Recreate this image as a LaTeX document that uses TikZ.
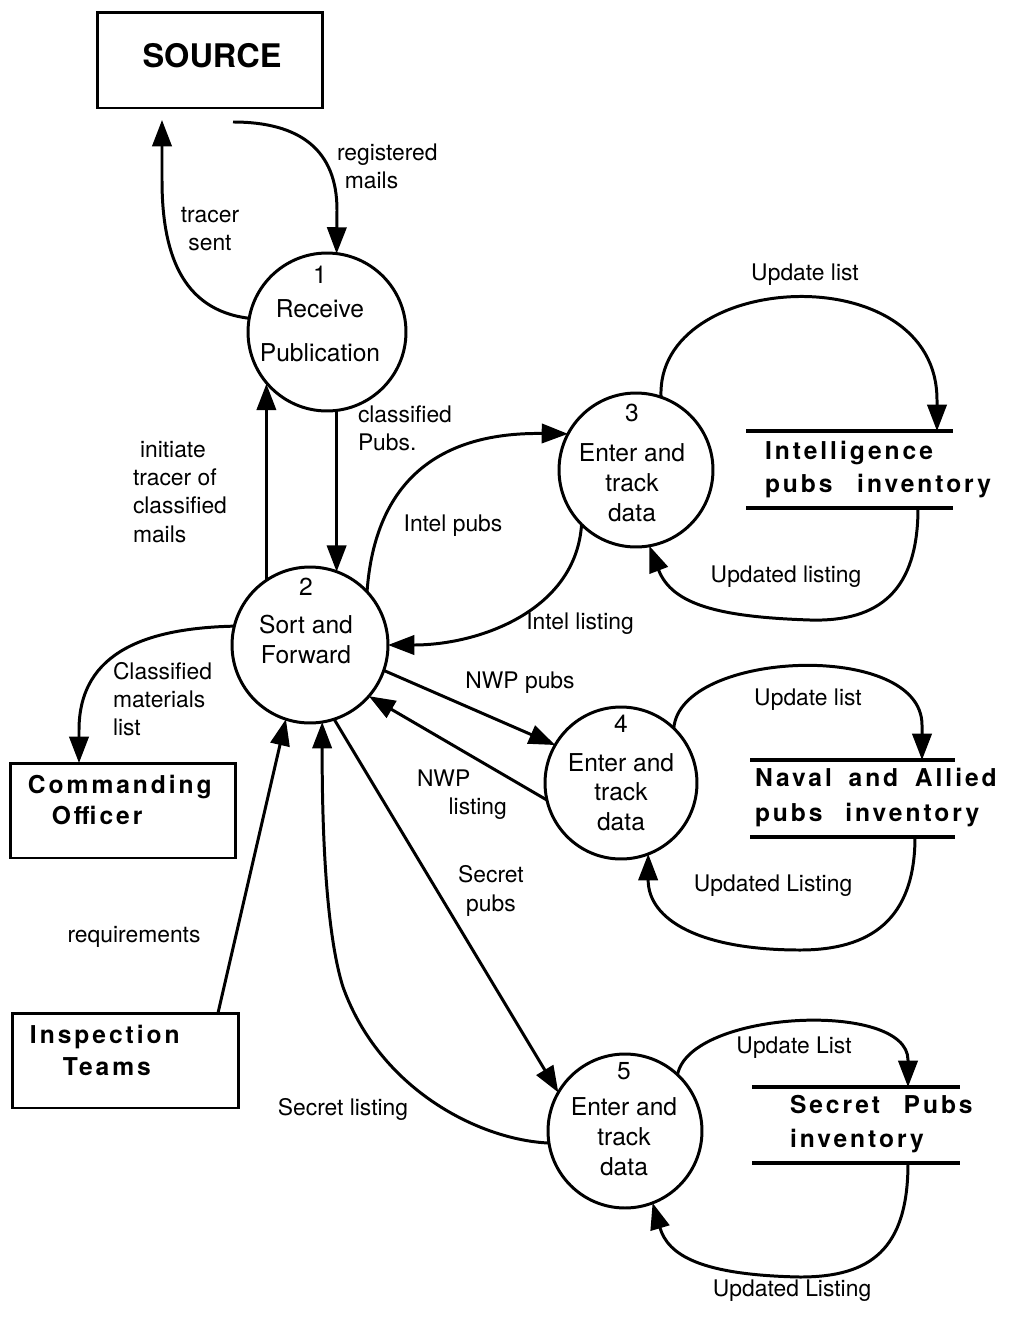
\documentclass[tikz,border=0pt]{standalone}
\usepackage{fontspec}
\setmainfont{TeX Gyre Heros}
\newfontfamily\boxfont[LetterSpace=12]{TeX Gyre Heros}
\usetikzlibrary{arrows.meta,calc}

\begin{document}
\begin{tikzpicture}[x=0.02cm,y=-0.02cm,
  every node/.style={inner sep=0pt,outer sep=0pt},
  flow/.style={line width=1.7pt,-{Triangle[length=15pt,width=11pt]}},
  process/.style={draw,circle,line width=1.7pt},
  entity/.style={draw,rectangle,line width=1.7pt},
  datastore/.style={rectangle},
  storeline/.style={line width=1.8pt},
  proctext/.style={align=center,font=\fontsize{14}{17}\selectfont},
  lbl/.style={font=\fontsize{13}{16}\selectfont},
  boxtext/.style={align=left},
]
% canvas
\fill[white] (0,0) rectangle (1017,1319);
\useasboundingbox (0,0) rectangle (1017,1319);

% external entities
\node[entity,minimum width=4.52cm,minimum height=1.92cm] (src) at (210,60) {};
\node[entity,minimum width=4.52cm,minimum height=1.90cm] (co) at (123,810.5) {};
\node[entity,minimum width=4.54cm,minimum height=1.90cm] (it) at (125.5,1060.5) {};
\node[font=\bfseries\fontsize{18.5}{22}\selectfont] (srct) at (212,56) {SOURCE};
\node[boxtext,anchor=west,font=\boxfont\bfseries\fontsize{14}{18.1}\selectfont] (cot) at (28,800)
  {Commanding\\\hspace*{13.6pt}Officer};
\node[boxtext,anchor=west,font=\boxfont\bfseries\fontsize{14}{18.7}\selectfont] (itt) at (30,1050.5)
  {Inspection\\\hspace*{18.7pt}Teams};

% processes
\node[process,minimum size=3.16cm] (p1) at (327,332) {};
\node[process,minimum size=3.12cm] (p2) at (310,645) {};
\node[process,minimum size=3.08cm] (p3) at (636,470) {};
\node[process,minimum size=3.04cm] (p4) at (621,783) {};
\node[process,minimum size=3.08cm] (p5) at (625,1131) {};
\node[proctext] (p1t) at (320,314) {1\\[2.3pt]Receive\\[8.5pt]Publication};
\node[proctext] (p2t) at (306,621) {2\\[4.5pt]Sort and\\Forward};
\node[proctext] (p3t) at (632,463) {3\\[5.7pt]Enter and\\track\\data};
\node[proctext] (p4t) at (621,773) {4\\[5.1pt]Enter and\\track\\data};
\node[proctext] (p5t) at (624,1119) {5\\[4pt]Enter and\\track\\data};

% data stores
\node[datastore,minimum width=4.14cm,minimum height=1.54cm] (s3) at (849.5,469.5) {};
\node[datastore,minimum width=4.10cm,minimum height=1.54cm] (s4) at (852.5,798.5) {};
\node[datastore,minimum width=4.16cm,minimum height=1.52cm] (s5) at (856,1125) {};
\foreach \s in {s3,s4,s5}
  \draw[storeline] (\s.north west) -- (\s.north east) (\s.south west) -- (\s.south east);
\node[boxtext,anchor=west,font=\boxfont\bfseries\fontsize{14}{18.7}\selectfont] (s3t) at (765,469.5)
  {Intelligence\\pubs\hspace{14pt}inventory};
\node[boxtext,anchor=west,font=\boxfont\bfseries\fontsize{14}{19.8}\selectfont] (s4t) at (755,797.5)
  {Naval\hspace{9.5pt}and\hspace{9.5pt}Allied\\pubs\hspace{13pt}inventory};
\node[boxtext,anchor=west,font=\boxfont\bfseries\fontsize{14}{19.3}\selectfont] (s5t) at (790,1124)
  {Secret\hspace{13.5pt}Pubs\\inventory};

% flows around the source
\draw[flow] ([shift={(23,14)}]src.south) .. controls (300,122) and (337,150) .. (337,210) -- (p1.83);
\draw[flow] (p1.170) .. controls (180,310) and (162,250) .. (162,180) -- ([shift={(-48,12)}]src.south);
\draw[flow] (p2.124) -- (p2.124 |- p1.221);
\draw[flow] (p1.277) -- (p1.277 |- p2.70);

% intelligence publications
\draw[flow] (p2.43) .. controls (375,480) and (440,432) .. (p3.152);
\draw[flow] (p3.225) .. controls (576,610) and (480,645) .. (p2.east);
\draw[flow] (p3.71) .. controls (655,270) and (937,255) .. (937,400) -- ([shift={(87.5,0)}]s3.north);
\draw[flow] ([shift={(68.5,0)}]s3.south) .. controls (918,590) and (880,622) .. (810,620)
  .. controls (720,617) and (672,605) .. (p3.280);

% commanding officer and inspection teams
\draw[flow] (p2.166) .. controls (150,628) and (79,650) .. (79,730) -- ([shift={(-44,0)}]co.north);
\draw[flow] ([shift={(92.5,0)}]it.north) -- (p2.252);

% naval and allied publications
\draw[flow] (p2.341) -- (p4.150);
\draw[flow] (p4.193) -- (p2.319);
\draw[flow] (p4.46) .. controls (680,650) and (922,640) .. (922,725) -- ([shift={(69.5,0)}]s4.north);
\draw[flow] ([shift={(62.5,0)}]s4.south) .. controls (915,920) and (870,950) .. (800,950)
  .. controls (700,950) and (648,920) .. (p4.291);

% secret publications
\draw[flow] (p2.288) -- (p5.150);
\draw[flow] (p5.189) .. controls (480,1140) and (380,1090) .. (343,987)
  .. controls (325,930) and (322,820) .. (p2.279);
\draw[flow] (p5.47) .. controls (690,1010) and (908,1000) .. (908,1060) -- ([shift={(52,0)}]s5.north);
\draw[flow] ([shift={(52,0)}]s5.south) .. controls (908,1250) and (870,1277) .. (800,1277)
  .. controls (700,1275) and (668,1255) .. (p5.291);

% flow labels
\node[lbl,align=left,anchor=west] (l-reg) at (337,166) {registered\\\hspace*{4.5pt}mails};
\node[lbl,align=center] (l-tracer) at (210,229) {tracer\\sent};
\node[lbl,align=left,anchor=west] (l-init) at (133,492) {\hspace*{4pt}initiate\\tracer of\\classified\\mails};
\node[lbl,align=left,anchor=west] (l-cpubs) at (358,428.5) {classified\\Pubs.};
\node[lbl] (l-ipubs) at (453,526) {Intel pubs};
\node[lbl] (l-ilist) at (580,624) {Intel listing};
\node[lbl] (l-up3) at (805,275) {Update list};
\node[lbl] (l-ud3) at (786,577) {Updated listing};
\node[lbl,align=left,anchor=west] (l-clmat) at (113,699) {Classified\\materials\\list};
\node[lbl] (l-nwpp) at (520,683) {NWP pubs};
\node[lbl,align=left,anchor=west] (l-nwpl) at (417,794.5) {NWP\\\hspace*{18pt}listing};
\node[lbl,align=center] (l-secp) at (491,891) {Secret\\pubs};
\node[lbl] (l-up4) at (808,700) {Update list};
\node[lbl] (l-ud4) at (773,886) {Updated Listing};
\node[lbl] (l-req) at (134,937) {requirements};
\node[lbl] (l-slist) at (343,1109) {Secret listing};
\node[lbl] (l-up5) at (794,1048) {Update List};
\node[lbl] (l-ud5) at (792,1291) {Updated Listing};
\end{tikzpicture}
\end{document}
